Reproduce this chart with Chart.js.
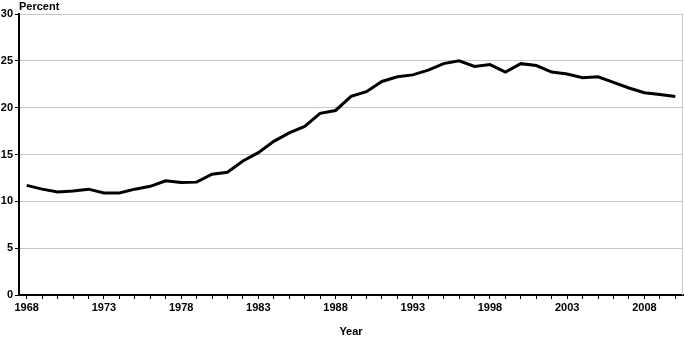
<!DOCTYPE html>
<html>
<head>
<meta charset="utf-8">
<script src="https://cdn.jsdelivr.net/npm/chart.js@4.4.1/dist/chart.umd.min.js"></script>
<style>
  html, body { margin: 0; padding: 0; background: #fff; }
  #wrap { position: relative; width: 684px; height: 339px; }
</style>
</head>
<body>
<div id="wrap"><canvas id="percentChart"></canvas></div>
<script>
const years = [];
for (let y = 1968; y <= 2010; y++) years.push(y);

const percentValues = [
  11.7, 11.3, 11.0, 11.1, 11.3, 10.9, 10.9, 11.3, 11.6, 12.2,
  12.0, 12.05, 12.9, 13.1, 14.3, 15.2, 16.4, 17.3, 18.0, 19.4,
  19.7, 21.2, 21.7, 22.8, 23.3, 23.5, 24.0, 24.7, 25.0, 24.4,
  24.6, 23.8, 24.7, 24.5, 23.8, 23.6, 23.2, 23.3, 22.7, 22.1,
  21.6, 21.4, 21.2
];

const yTicks = [0, 5, 10, 15, 20, 25, 30];
const labeledYears = [1968, 1973, 1978, 1983, 1988, 1993, 1998, 2003, 2008];

const fontFamily = "'Liberation Sans', Arial, Helvetica, sans-serif";
const labelFont = { family: fontFamily, size: 11, weight: "bold" };

// "Percent" label above the y axis and the light right frame
const framePlugin = {
  id: "frame",
  afterDraw(chart) {
    const { ctx, chartArea } = chart;
    ctx.save();
    ctx.strokeStyle = "#c8c8c8";
    ctx.lineWidth = 1;
    ctx.beginPath();
    ctx.moveTo(chartArea.right - 0.5, chartArea.top);
    ctx.lineTo(chartArea.right - 0.5, chartArea.bottom);
    ctx.stroke();
    ctx.fillStyle = "#000";
    ctx.font = "bold 11px " + fontFamily;
    ctx.textBaseline = "alphabetic";
    ctx.textAlign = "left";
    ctx.fillText("Percent", chartArea.left, chartArea.top - 4);
    ctx.restore();
  }
};

new Chart(document.getElementById("percentChart"), {
  type: "line",
  data: {
    datasets: [
      {
        data: years.map((yr, i) => ({ x: yr, y: percentValues[i] })),
        borderColor: "#000",
        borderWidth: 3,
        pointRadius: 0,
        tension: 0,
        fill: false
      }
    ]
  },
  options: {
    responsive: true,
    maintainAspectRatio: false,
    animation: false,
    layout: { padding: { top: 14, right: 1, left: 0, bottom: 0 } },
    plugins: {
      legend: { display: false },
      tooltip: { enabled: false }
    },
    scales: {
      x: {
        type: "linear",
        min: 1967.5,
        max: 2010.5,
        afterBuildTicks(scale) {
          scale.ticks = years.map((v) => ({ value: v }));
        },
        afterFit(scale) { scale.height = 44; },
        ticks: {
          autoSkip: false,
          maxRotation: 0,
          padding: 2,
          color: "#000",
          font: labelFont,
          callback: (v) => (labeledYears.includes(v) ? String(v) : "")
        },
        grid: { drawOnChartArea: false, tickLength: 4, color: "#000" },
        border: { color: "#000", width: 2 },
        title: {
          display: true,
          text: "Year",
          color: "#000",
          font: labelFont,
          padding: { top: 10, bottom: 0 }
        }
      },
      y: {
        min: 0,
        max: 30,
        afterBuildTicks(scale) {
          scale.ticks = yTicks.map((v) => ({ value: v }));
        },
        afterFit(scale) { scale.width = 19; },
        ticks: {
          padding: 2,
          color: "#000",
          font: labelFont
        },
        grid: {
          color: "#c8c8c8",
          tickLength: 4,
          tickColor: "#000"
        },
        border: { color: "#000", width: 2 }
      }
    }
  },
  plugins: [framePlugin]
});
</script>
</body>
</html>
